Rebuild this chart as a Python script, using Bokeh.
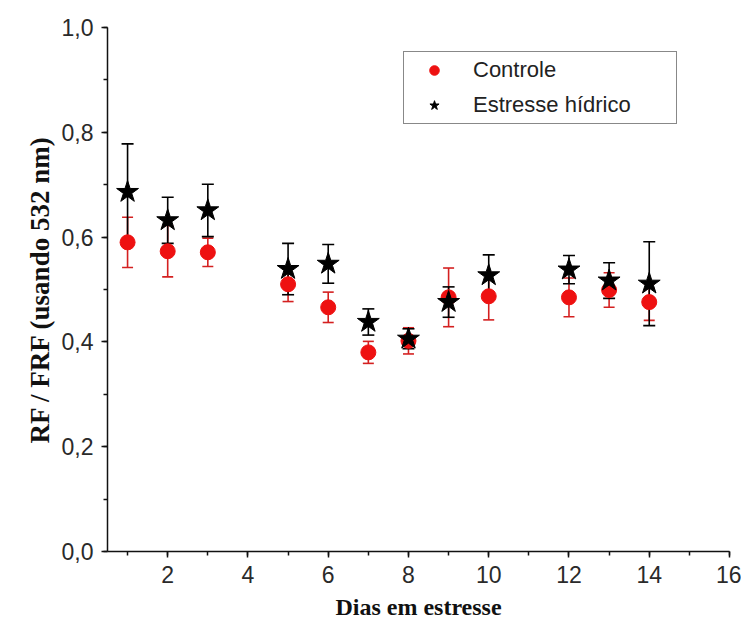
from bokeh.plotting import figure
from bokeh.models import (ColumnDataSource, Whisker, TeeHead, Range1d,
                          SingleIntervalTicker, CustomJSTickFormatter)
from bokeh.embed import file_html
from bokeh.resources import INLINE

# ---- data ----
days = [1, 2, 3, 5, 6, 7, 8, 9, 10, 12, 13, 14]
controle = [0.590, 0.573, 0.571, 0.510, 0.466, 0.380, 0.402, 0.485, 0.487, 0.485, 0.499, 0.476]
controle_err = [0.048, 0.049, 0.027, 0.033, 0.029, 0.021, 0.025, 0.056, 0.045, 0.037, 0.033, 0.035]
estresse = [0.686, 0.632, 0.651, 0.539, 0.549, 0.438, 0.406, 0.476, 0.527, 0.538, 0.517, 0.511]
estresse_err = [0.092, 0.044, 0.050, 0.049, 0.037, 0.025, 0.019, 0.029, 0.039, 0.027, 0.034, 0.080]

RED = "#ee1111"
RED_BAR = "#d42020"
BLACK = "#000000"

src_c = ColumnDataSource(dict(
    x=days, y=controle,
    upper=[v + e for v, e in zip(controle, controle_err)],
    lower=[v - e for v, e in zip(controle, controle_err)]))
src_e = ColumnDataSource(dict(
    x=days, y=estresse,
    upper=[v + e for v, e in zip(estresse, estresse_err)],
    lower=[v - e for v, e in zip(estresse, estresse_err)]))

p = figure(width=741, height=626, output_backend="svg", toolbar_location=None,
           x_range=Range1d(0.5, 16), y_range=Range1d(0, 1.0),
           min_border_left=107, min_border_right=12, min_border_top=27,
           min_border_bottom=75)
p.xgrid.visible = False
p.ygrid.visible = False
p.outline_line_color = None
p.background_fill_color = "white"
p.border_fill_color = "white"

# error bars
wc = Whisker(source=src_c, base="x", upper="upper", lower="lower",
             line_color=RED_BAR, line_width=1.6,
             upper_head=TeeHead(size=11, line_color=RED_BAR, line_width=1.6),
             lower_head=TeeHead(size=11, line_color=RED_BAR, line_width=1.6))
we = Whisker(source=src_e, base="x", upper="upper", lower="lower",
             line_color=BLACK, line_width=1.6,
             upper_head=TeeHead(size=12, line_color=BLACK, line_width=1.6),
             lower_head=TeeHead(size=12, line_color=BLACK, line_width=1.6))
p.add_layout(wc)
p.add_layout(we)

p.scatter("x", "y", source=src_c, marker="circle", size=15,
          fill_color=RED, line_color=RED, legend_label="Controle")
p.scatter("x", "y", source=src_e, marker="star", size=23,
          fill_color=BLACK, line_color=BLACK, legend_label="Estresse hídrico")

# axes
p.xaxis.ticker = SingleIntervalTicker(interval=2, num_minor_ticks=2)
p.yaxis.ticker = SingleIntervalTicker(interval=0.2, num_minor_ticks=2)
p.yaxis.formatter = CustomJSTickFormatter(code="return tick.toFixed(1).replace('.', ',');")
p.xaxis.axis_label = "Dias em estresse"
p.yaxis.axis_label = "RF / FRF (usando 532 nm)"

for ax in (p.xaxis[0], p.yaxis[0]):
    ax.axis_line_width = 1.5
    ax.axis_line_color = "#111111"
    ax.major_tick_line_width = 1.5
    ax.minor_tick_line_width = 1.5
    ax.major_tick_line_color = "#111111"
    ax.minor_tick_line_color = "#111111"
    ax.major_tick_out = 6
    ax.major_tick_in = 0
    ax.minor_tick_out = 4
    ax.minor_tick_in = 0
    ax.major_label_text_font = "Liberation Sans"
    ax.major_label_text_font_size = "23px"
    ax.major_label_text_color = "#2a2a2a"
    ax.major_label_standoff = 8
    ax.axis_label_text_font = "Liberation Serif"
    ax.axis_label_text_font_style = "bold"
    ax.axis_label_text_color = "#111111"

p.xaxis.axis_label_text_font_size = "24px"
p.xaxis.axis_label_standoff = 8
p.yaxis.axis_label_text_font_size = "27px"
p.yaxis.axis_label_standoff = 4

# legend
lg = p.legend[0]
lg.location = (296, 427)
lg.border_line_color = "#111111"
lg.border_line_width = 1.5
lg.background_fill_color = "white"
lg.background_fill_alpha = 1.0
lg.padding = 5
lg.spacing = 9
lg.glyph_height = 24
lg.glyph_width = 50
lg.label_standoff = 14
lg.label_width = 198
lg.label_height = 24
lg.margin = 0
lg.label_text_font = "Liberation Sans"
lg.label_text_font_size = "22px"
lg.label_text_color = "#222222"

open("out.html", "w").write(file_html(p, INLINE))
